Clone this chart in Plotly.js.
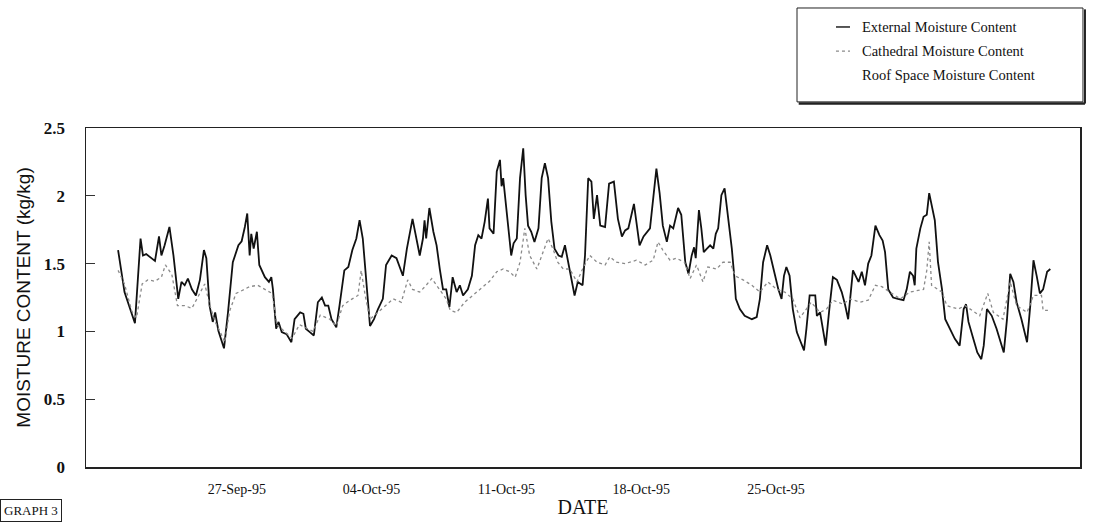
<!DOCTYPE html>
<html>
<head>
<meta charset="utf-8">
<script src="https://cdn.plot.ly/plotly-3.0.1.min.js"></script>
<style>html,body{margin:0;padding:0;background:#fff;}#chart{width:1093px;height:523px;}</style>
</head>
<body>
<div id="chart"></div>
<script>
// External moisture content (kg/kg)
const extTimes = [
"1995-09-20 20:00","1995-09-21 04:00","1995-09-21 17:00","1995-09-22 00:00","1995-09-22 03:00","1995-09-22 07:00","1995-09-22 18:00","1995-09-22 23:00",
"1995-09-23 02:00","1995-09-23 06:00","1995-09-23 12:00","1995-09-23 17:00","1995-09-23 23:00","1995-09-24 03:00","1995-09-24 07:00","1995-09-24 11:00",
"1995-09-24 16:00","1995-09-24 21:00","1995-09-25 02:00","1995-09-25 07:00","1995-09-25 10:00","1995-09-25 14:00","1995-09-25 18:00","1995-09-25 21:00",
"1995-09-26 01:00","1995-09-26 08:00","1995-09-26 13:00","1995-09-26 19:00","1995-09-27 02:00","1995-09-27 06:00","1995-09-27 10:00","1995-09-27 13:00",
"1995-09-27 16:00","1995-09-27 18:00","1995-09-27 21:00","1995-09-28 01:00","1995-09-28 04:00","1995-09-28 11:00","1995-09-28 16:00","1995-09-28 19:00",
"1995-09-28 21:00","1995-09-29 01:00","1995-09-29 04:00","1995-09-29 08:00","1995-09-29 14:00","1995-09-29 20:00","1995-09-30 00:00","1995-09-30 07:00",
"1995-09-30 11:00","1995-09-30 14:00","1995-09-30 19:00","1995-10-01 00:00","1995-10-01 05:00","1995-10-01 10:00","1995-10-01 14:00","1995-10-01 18:00",
"1995-10-01 22:00","1995-10-02 04:00","1995-10-02 08:00","1995-10-02 14:00","1995-10-02 19:00","1995-10-03 00:00","1995-10-03 05:00","1995-10-03 09:00",
"1995-10-03 13:00","1995-10-03 18:00","1995-10-03 22:00","1995-10-04 03:00","1995-10-04 08:00","1995-10-04 14:00","1995-10-04 18:00","1995-10-05 01:00",
"1995-10-05 07:00","1995-10-05 15:00","1995-10-05 20:00","1995-10-06 03:00","1995-10-06 08:00","1995-10-06 12:00","1995-10-06 16:00","1995-10-06 18:00",
"1995-10-06 20:00","1995-10-07 00:00","1995-10-07 05:00","1995-10-07 09:00","1995-10-07 13:00","1995-10-07 17:00","1995-10-07 21:00","1995-10-08 01:00",
"1995-10-08 05:00","1995-10-08 10:00","1995-10-08 14:00","1995-10-08 18:00","1995-10-09 00:00","1995-10-09 05:00","1995-10-09 09:00","1995-10-09 13:00",
"1995-10-09 17:00","1995-10-09 21:00","1995-10-10 01:00","1995-10-10 03:00","1995-10-10 08:00","1995-10-10 12:00","1995-10-10 16:00","1995-10-10 18:00",
"1995-10-10 20:00","1995-10-11 00:00","1995-10-11 04:00","1995-10-11 06:00","1995-10-11 09:00","1995-10-11 13:00","1995-10-11 17:00","1995-10-11 21:00",
"1995-10-12 00:00","1995-10-12 03:00","1995-10-12 07:00","1995-10-12 11:00","1995-10-12 16:00","1995-10-12 20:00","1995-10-13 00:00","1995-10-13 04:00",
"1995-10-13 08:00","1995-10-13 12:00","1995-10-13 17:00","1995-10-13 21:00","1995-10-14 01:00","1995-10-14 05:00","1995-10-14 09:00","1995-10-14 13:00",
"1995-10-14 17:00","1995-10-14 23:00","1995-10-15 02:00","1995-10-15 06:00","1995-10-15 10:00","1995-10-15 13:00","1995-10-15 17:00","1995-10-15 21:00",
"1995-10-16 03:00","1995-10-16 08:00","1995-10-16 14:00","1995-10-16 19:00","1995-10-17 00:00","1995-10-17 04:00","1995-10-17 08:00","1995-10-17 15:00",
"1995-10-17 18:00","1995-10-17 22:00","1995-10-18 03:00","1995-10-18 11:00","1995-10-18 19:00","1995-10-18 23:00","1995-10-19 03:00","1995-10-19 08:00",
"1995-10-19 12:00","1995-10-19 16:00","1995-10-19 22:00","1995-10-20 02:00","1995-10-20 07:00","1995-10-20 11:00","1995-10-20 15:00","1995-10-20 18:00",
"1995-10-20 20:00","1995-10-21 00:00","1995-10-21 03:00","1995-10-21 06:00","1995-10-21 10:00","1995-10-21 14:00","1995-10-21 18:00","1995-10-21 21:00",
"1995-10-22 00:00","1995-10-22 04:00","1995-10-22 08:00","1995-10-22 13:00","1995-10-22 17:00","1995-10-22 20:00","1995-10-22 22:00","1995-10-23 03:00",
"1995-10-23 09:00","1995-10-23 18:00","1995-10-24 00:00","1995-10-24 04:00","1995-10-24 08:00","1995-10-24 13:00","1995-10-24 17:00","1995-10-24 23:00",
"1995-10-25 03:00","1995-10-25 07:00","1995-10-25 10:00","1995-10-25 13:00","1995-10-25 17:00","1995-10-25 21:00","1995-10-26 02:00","1995-10-26 07:00",
"1995-10-26 11:00","1995-10-26 14:00","1995-10-26 18:00","1995-10-27 01:00","1995-10-27 03:00","1995-10-27 07:00","1995-10-27 10:00","1995-10-27 14:00",
"1995-10-27 19:00","1995-10-27 23:00","1995-10-28 04:00","1995-10-28 10:00","1995-10-28 14:00","1995-10-28 18:00","1995-10-29 00:00","1995-10-29 03:00",
"1995-10-29 07:00","1995-10-29 11:00","1995-10-29 15:00","1995-10-29 19:00","1995-10-29 23:00","1995-10-30 04:00","1995-10-30 09:00","1995-10-30 13:00",
"1995-10-30 16:00","1995-10-30 20:00","1995-10-31 02:00","1995-10-31 08:00","1995-10-31 15:00","1995-10-31 19:00","1995-10-31 23:00","1995-11-01 03:00",
"1995-11-01 05:00","1995-11-01 07:00","1995-11-01 12:00","1995-11-01 16:00","1995-11-01 20:00","1995-11-01 23:00","1995-11-02 02:00","1995-11-02 06:00",
"1995-11-02 10:00","1995-11-02 15:00","1995-11-02 19:00","1995-11-03 01:00","1995-11-03 07:00","1995-11-03 13:00","1995-11-03 18:00","1995-11-03 21:00",
"1995-11-04 00:00","1995-11-04 06:00","1995-11-04 11:00","1995-11-04 16:00","1995-11-04 19:00","1995-11-04 23:00","1995-11-05 05:00","1995-11-05 11:00",
"1995-11-05 16:00","1995-11-05 20:00","1995-11-06 00:00","1995-11-06 04:00","1995-11-06 08:00","1995-11-06 12:00","1995-11-06 18:00","1995-11-07 01:00",
"1995-11-07 05:00","1995-11-07 09:00","1995-11-07 13:00","1995-11-07 17:00","1995-11-07 21:00","1995-11-08 02:00","1995-11-08 06:00"
];
const extValues = [
1.60,1.29,1.06,1.685,1.56,1.57,1.52,1.70,
1.56,1.635,1.77,1.56,1.24,1.365,1.34,1.39,
1.31,1.265,1.38,1.60,1.54,1.19,1.07,1.14,
1.005,0.875,1.14,1.51,1.635,1.665,1.77,1.87,
1.56,1.72,1.61,1.735,1.49,1.40,1.365,1.40,
1.31,1.02,1.07,0.995,0.98,0.92,1.09,1.14,
1.13,1.02,0.995,0.97,1.215,1.25,1.19,1.19,
1.09,1.03,1.19,1.45,1.475,1.60,1.685,1.82,
1.685,1.29,1.04,1.09,1.165,1.24,1.49,1.56,
1.54,1.41,1.61,1.83,1.685,1.56,1.685,1.82,
1.685,1.91,1.735,1.635,1.46,1.31,1.31,1.18,
1.40,1.29,1.34,1.265,1.31,1.41,1.635,1.71,
1.685,1.81,1.98,1.76,1.72,2.18,2.265,2.07,
2.13,1.91,1.71,1.56,1.65,1.685,2.13,2.35,
2.005,1.78,1.735,1.66,1.76,2.13,2.24,2.13,
1.81,1.61,1.56,1.55,1.635,1.51,1.365,1.265,
1.365,1.34,1.56,2.13,2.105,1.83,2.005,1.78,
1.77,2.09,2.105,1.83,1.70,1.745,1.76,1.94,
1.81,1.635,1.70,1.76,2.20,2.02,1.78,1.66,
1.78,1.76,1.91,1.86,1.51,1.425,1.56,1.62,
1.54,1.895,1.76,1.585,1.61,1.635,1.61,1.72,
1.76,2.005,2.055,1.83,1.61,1.41,1.24,1.165,
1.115,1.09,1.105,1.24,1.51,1.635,1.56,1.41,
1.31,1.24,1.41,1.475,1.41,1.165,0.995,0.92,
0.86,1.02,1.265,1.265,1.115,1.14,1.02,0.895,
1.19,1.40,1.38,1.29,1.20,1.09,1.45,1.41,
1.365,1.44,1.34,1.50,1.56,1.78,1.71,1.67,
1.585,1.31,1.25,1.24,1.23,1.31,1.44,1.41,
1.34,1.61,1.76,1.845,1.86,2.02,1.93,1.82,
1.51,1.31,1.09,1.02,0.945,0.895,1.165,1.20,
1.07,0.945,0.845,0.795,0.895,1.165,1.115,1.02,
0.93,0.845,1.09,1.425,1.365,1.215,1.09,0.92,
1.19,1.525,1.41,1.28,1.31,1.44,1.46
];

// Cathedral moisture content (kg/kg)
const cathTimes = [
"1995-09-20 20:00","1995-09-21 04:00","1995-09-21 13:00","1995-09-21 19:00","1995-09-22 02:00","1995-09-22 09:00","1995-09-22 18:00","1995-09-23 02:00",
"1995-09-23 07:00","1995-09-23 15:00","1995-09-23 22:00","1995-09-24 07:00","1995-09-24 16:00","1995-09-24 23:00","1995-09-25 08:00","1995-09-25 14:00",
"1995-09-25 21:00","1995-09-26 03:00","1995-09-26 09:00","1995-09-26 15:00","1995-09-26 23:00","1995-09-27 06:00","1995-09-27 16:00","1995-09-28 02:00",
"1995-09-28 11:00","1995-09-28 20:00","1995-09-29 02:00","1995-09-29 12:00","1995-09-29 21:00","1995-09-30 06:00","1995-09-30 23:00","1995-10-01 08:00",
"1995-10-01 20:00","1995-10-02 04:00","1995-10-02 12:00","1995-10-02 21:00","1995-10-03 07:00","1995-10-03 11:00","1995-10-03 16:00","1995-10-03 22:00",
"1995-10-04 08:00","1995-10-04 19:00","1995-10-05 03:00","1995-10-05 13:00","1995-10-05 21:00","1995-10-06 03:00","1995-10-06 12:00","1995-10-06 20:00",
"1995-10-07 03:00","1995-10-07 09:00","1995-10-07 21:00","1995-10-08 02:00","1995-10-08 10:00","1995-10-08 20:00","1995-10-09 06:00","1995-10-09 23:00",
"1995-10-10 03:00","1995-10-10 12:00","1995-10-10 20:00","1995-10-11 04:00","1995-10-11 11:00","1995-10-11 17:00","1995-10-11 23:00","1995-10-12 05:00",
"1995-10-12 14:00","1995-10-12 22:00","1995-10-13 04:00","1995-10-13 10:00","1995-10-13 16:00","1995-10-13 23:00","1995-10-14 07:00","1995-10-14 16:00",
"1995-10-14 23:00","1995-10-15 08:00","1995-10-15 17:00","1995-10-16 03:00","1995-10-16 09:00","1995-10-16 17:00","1995-10-17 04:00","1995-10-17 18:00",
"1995-10-18 05:00","1995-10-18 15:00","1995-10-18 21:00","1995-10-19 03:00","1995-10-19 12:00","1995-10-19 20:00","1995-10-20 06:00","1995-10-20 13:00",
"1995-10-20 21:00","1995-10-21 05:00","1995-10-21 11:00","1995-10-21 22:00","1995-10-22 06:00","1995-10-22 15:00","1995-10-22 21:00","1995-10-23 07:00",
"1995-10-23 18:00","1995-10-24 04:00","1995-10-24 14:00","1995-10-25 01:00","1995-10-25 11:00","1995-10-25 21:00","1995-10-26 06:00","1995-10-26 20:00",
"1995-10-27 07:00","1995-10-27 15:00","1995-10-27 23:00","1995-10-28 12:00","1995-10-28 20:00","1995-10-29 09:00","1995-10-29 19:00","1995-10-30 04:00",
"1995-10-30 12:00","1995-10-30 22:00","1995-10-31 11:00","1995-10-31 23:00","1995-11-01 16:00","1995-11-01 20:00","1995-11-01 23:00","1995-11-02 02:00",
"1995-11-02 15:00","1995-11-02 21:00","1995-11-03 11:00","1995-11-03 20:00","1995-11-04 14:00","1995-11-05 00:00","1995-11-05 07:00","1995-11-05 19:00",
"1995-11-06 04:00","1995-11-06 12:00","1995-11-07 01:00","1995-11-07 09:00","1995-11-07 19:00","1995-11-07 21:00","1995-11-08 03:00"
];
const cathValues = [
1.45,1.35,1.15,1.10,1.35,1.38,1.37,1.40,
1.49,1.42,1.19,1.19,1.17,1.25,1.35,1.20,
1.07,1.00,0.92,1.15,1.28,1.30,1.33,1.34,
1.31,1.28,1.05,1.00,0.95,1.05,1.00,1.12,
1.09,1.04,1.19,1.23,1.265,1.45,1.265,1.09,
1.14,1.20,1.24,1.215,1.38,1.31,1.29,1.34,
1.39,1.34,1.24,1.155,1.14,1.215,1.265,1.35,
1.37,1.44,1.46,1.44,1.40,1.51,1.76,1.56,
1.46,1.59,1.685,1.61,1.51,1.46,1.46,1.365,
1.46,1.56,1.51,1.49,1.55,1.51,1.50,1.525,
1.49,1.525,1.66,1.60,1.525,1.54,1.51,1.39,
1.49,1.365,1.475,1.46,1.51,1.51,1.41,1.38,
1.34,1.29,1.365,1.31,1.29,1.24,1.10,1.215,
1.14,1.165,1.23,1.20,1.24,1.215,1.23,1.34,
1.33,1.29,1.24,1.29,1.31,1.45,1.66,1.34,
1.29,1.19,1.165,1.19,1.115,1.28,1.14,1.09,
1.365,1.19,1.14,1.265,1.265,1.155,1.155
];

// Roof space moisture content: not legible in the reference (legend entry only)
const roofTimes = [];
const roofValues = [];

const seriesNames = ["External Moisture Content","Cathedral Moisture Content","Roof Space Moisture Content"];
const tickDates = ["1995-09-27","1995-10-04","1995-10-11","1995-10-18","1995-10-25"];
const tickLabels = ["27-Sep-95","04-Oct-95","11-Oct-95","18-Oct-95","25-Oct-95"];
const yTicks = [0,0.5,1,1.5,2,2.5];
const yTickLabels = ["0","0.5","1","1.5","2","2.5"];

const serif = "Liberation Serif, Times New Roman, serif";
const extLine = {color: "#111111", width: 1.8};
const cathLine = {color: "#8a8a8a", width: 1.3, dash: "dot"};
const roofLine = {color: "rgba(255,255,255,0)", width: 1};

const traces = [
  {x: extTimes, y: extValues, type: "scatter", mode: "lines", name: seriesNames[0], line: extLine},
  {x: cathTimes, y: cathValues, type: "scatter", mode: "lines", name: seriesNames[1], line: cathLine},
  {x: roofTimes, y: roofValues, type: "scatter", mode: "lines", name: seriesNames[2], line: roofLine}
];

// custom legend box (paper coordinates), matching the boxed legend of the reference
const legRows = [1.298, 1.227, 1.156];
const legLines = [extLine, cathLine, roofLine];
const shapes = [
  {type: "rect", xref: "paper", yref: "paper", x0: 0.7153, x1: 1.003, y0: 1.077, y1: 1.354,
   line: {color: "#222", width: 1}, fillcolor: "rgba(0,0,0,0)"},
  {type: "line", xref: "paper", yref: "paper", x0: 0.717, x1: 1.005, y0: 1.072, y1: 1.072,
   line: {color: "#222", width: 2.5}},
  {type: "line", xref: "paper", yref: "paper", x0: 1.005, x1: 1.005, y0: 1.072, y1: 1.35,
   line: {color: "#222", width: 2}}
];
const annotations = [];
seriesNames.forEach((nm, i) => {
  shapes.push({type: "line", xref: "paper", yref: "paper", x0: 0.7545, x1: 0.7686, y0: legRows[i], y1: legRows[i],
    line: {color: legLines[i].color, width: i === 0 ? 1.4 : 1.2, dash: legLines[i].dash || "solid"}});
  annotations.push({text: nm, xref: "paper", yref: "paper", x: 0.7787, y: legRows[i], xanchor: "left", yanchor: "middle",
    showarrow: false, font: {family: serif, size: 14.5, color: "#111"}});
});
annotations.push({text: "GRAPH 3", xref: "paper", yref: "paper", x: -0.0865, y: -0.094, xanchor: "left", yanchor: "top",
  showarrow: false, font: {family: serif, size: 13, color: "#111"},
  bordercolor: "#222", borderwidth: 1, borderpad: 3, bgcolor: "#fff"});

const layout = {
  width: 1093, height: 523,
  margin: {l: 86, r: 13, t: 128, b: 56, pad: 0},
  paper_bgcolor: "#ffffff", plot_bgcolor: "#ffffff",
  font: {family: serif, color: "#111"},
  showlegend: false,
  xaxis: {
    type: "date",
    range: ["1995-09-19 04:00", "1995-11-09 19:00"],
    tickvals: tickDates, ticktext: tickLabels,
    ticks: "", showgrid: false, zeroline: false,
    showline: true, linecolor: "#222", linewidth: 1.5, mirror: true,
    tickfont: {family: serif, size: 14, color: "#111"},
    ticklabelstandoff: 9,
    title: {text: "DATE", font: {family: serif, size: 20, color: "#111"}, standoff: 3}
  },
  yaxis: {
    range: [0, 2.5],
    tickvals: yTicks, ticktext: yTickLabels,
    ticks: "inside", ticklen: 9, tickwidth: 1, tickcolor: "#333",
    showgrid: false, zeroline: false,
    showline: true, linecolor: "#222", linewidth: 1.5, mirror: true,
    tickfont: {family: serif, size: 17, color: "#111", weight: "bold"},
    ticklabelstandoff: 16,
    title: {text: "MOISTURE CONTENT (kg/kg)", font: {family: "Liberation Sans, Arial, sans-serif", size: 19, color: "#111"}, standoff: 8}
  },
  shapes: shapes,
  annotations: annotations
};

Plotly.newPlot("chart", traces, layout, {displayModeBar: false, staticPlot: true});
</script>
</body>
</html>
